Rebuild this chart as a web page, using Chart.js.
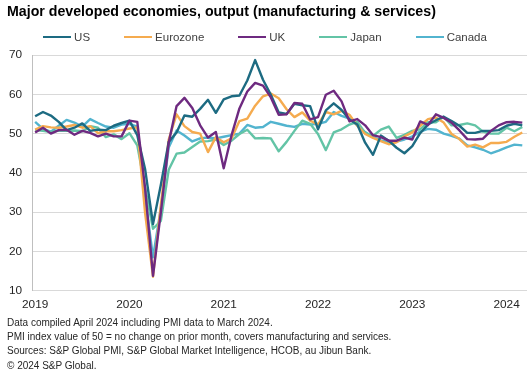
<!DOCTYPE html>
<html>
<head>
<meta charset="utf-8">
<script src="https://cdn.jsdelivr.net/npm/chart.js@4.4.1/dist/chart.umd.min.js"></script>
<style>
  body { margin: 0; background: #fff; font-family: Arial, "Liberation Sans", sans-serif; color: #262626; }
  #wrap { position: relative; width: 530px; height: 377px; overflow: hidden; }
  #chart { position: absolute; left: 0; top: 0; }
  #title { position: absolute; left: 7px; top: 3px; font-size: 14.2px; font-weight: bold; color: #000; white-space: nowrap; }
  #legend { position: absolute; left: 0; width: 530px; top: 31px; display: flex; justify-content: center; gap: 34px; font-size: 11.5px; color: #404040; }
  #legend .item { display: flex; align-items: center; }
  #legend .swatch { width: 28px; height: 2.5px; margin-right: 3px; }
  #notes { position: absolute; left: 7px; top: 316px; font-size: 10px; line-height: 14.2px; color: #262626; white-space: nowrap; }
</style>
</head>
<body>
<div id="wrap">
  <canvas id="chart" width="530" height="377"></canvas>
  <div id="title">Major developed economies, output (manufacturing &amp; services)</div>
  <div id="legend"></div>
  <div id="notes">
    Data compiled April 2024 including PMI data to March 2024.<br>
    PMI index value of 50 = no change on prior month, covers manufacturing and services.<br>
    Sources: S&amp;P Global PMI, S&amp;P Global Market Intelligence, HCOB, au Jibun Bank.<br>
    &copy; 2024 S&amp;P Global.
  </div>
</div>
<script>
"use strict";

// Monthly, Jan 2019 - Mar 2024
let months = [];
for (let y = 2019; y <= 2024; y++) {
  for (let m = 1; m <= 12; m++) {
    if (y === 2024 && m > 3) break;
    months.push(y + "-" + (m < 10 ? "0" + m : m));
  }
}

let yearTicks = [2019, 2020, 2021, 2022, 2023, 2024];
let yTicks = [10, 20, 30, 40, 50, 60, 70];

let seriesNames = ["US", "Eurozone", "UK", "Japan", "Canada"];
let seriesColors = ["#1d6b82", "#f5ab4f", "#6e2a80", "#63c4a6", "#52b4cf"];
// lower order = drawn on top (UK sits on top at the 2020 low)
let seriesOrder = [1, 2, 0, 3, 4];

let us = [
  54.4, 55.5, 54.6, 53.0, 50.9, 51.5, 52.6, 50.7, 51.0, 50.9, 52.0, 52.7,
  53.3, 49.6, 40.9, 27.0, 37.0, 47.9, 50.3, 54.6, 54.3, 56.3, 58.6, 55.3,
  58.7, 59.5, 59.7, 63.5, 68.7, 63.7, 59.9, 55.4, 55.0, 57.6, 57.2, 57.0,
  51.1, 55.9, 57.7, 56.0, 53.6, 52.3, 47.7, 44.6, 49.5, 48.2, 46.4, 45.0,
  46.8, 50.1, 52.3, 53.4, 54.3, 53.2, 52.0, 50.2, 50.2, 50.7, 50.7, 50.9,
  52.0, 52.5, 52.1
];
let eurozone = [
  51.0, 51.9, 51.6, 51.5, 51.8, 52.2, 51.5, 51.9, 50.1, 50.6, 50.6, 50.9,
  51.3, 51.6, 29.7, 13.6, 31.9, 48.5, 54.9, 51.9, 50.4, 50.0, 45.3, 49.1,
  47.8, 48.8, 53.2, 53.8, 57.1, 59.5, 60.2, 59.0, 56.2, 54.2, 55.4, 53.3,
  52.3, 55.5, 54.9, 55.8, 54.8, 52.0, 49.9, 48.9, 48.1, 47.3, 47.8, 49.3,
  50.3, 52.0, 53.7, 54.1, 52.8, 49.9, 48.6, 46.7, 47.2, 46.5, 47.6, 47.6,
  47.9, 49.2, 50.3
];
let uk = [
  50.3, 51.5, 50.0, 50.9, 51.0, 49.7, 50.7, 50.2, 49.3, 50.0, 49.3, 49.3,
  53.3, 53.0, 36.0, 13.8, 30.0, 47.7, 57.0, 59.1, 56.5, 52.1, 49.0, 50.4,
  41.2, 49.6, 56.4, 60.7, 62.9, 62.2, 59.2, 54.8, 54.9, 57.8, 57.6, 53.6,
  54.2, 59.9, 60.9, 58.2, 53.1, 53.7, 52.1, 49.6, 49.1, 48.2, 48.2, 49.0,
  48.5, 53.1, 52.2, 54.9, 54.0, 52.8, 50.8, 48.6, 48.5, 48.7, 50.7, 52.1,
  52.9, 53.0, 52.8
];
let japan = [
  50.9, 50.7, 50.4, 50.8, 50.7, 50.8, 50.6, 51.9, 51.5, 49.1, 49.8, 48.6,
  50.1, 47.0, 36.2, 25.8, 27.8, 40.8, 44.9, 45.2, 46.6, 48.0, 48.1, 48.5,
  47.1, 48.2, 49.9, 51.0, 48.8, 48.9, 48.8, 45.5, 47.9, 50.7, 53.3, 52.5,
  49.9, 45.8, 50.3, 51.1, 52.3, 53.0, 50.2, 49.4, 51.0, 51.8, 48.9, 49.7,
  50.7, 51.1, 52.9, 52.9, 54.3, 52.1, 52.2, 52.6, 52.1, 50.5, 50.0, 50.0,
  51.5, 50.6, 51.7
];
let canada = [
  53.0, 51.2, 50.5, 52.0, 53.5, 52.8, 51.8, 53.7, 52.7, 51.8, 51.5, 52.3,
  52.5, 51.8, 34.0, 18.5, 31.0, 46.5, 50.8, 49.5, 48.0, 48.8, 49.0, 48.8,
  49.2, 49.6, 50.0, 52.2, 51.5, 51.7, 53.0, 52.5, 52.0, 51.7, 52.5, 52.3,
  52.5, 53.0, 55.5, 54.5, 53.8, 52.1, 50.4, 49.1, 48.3, 47.8, 48.0, 48.5,
  49.3, 50.5, 51.2, 51.0, 50.0, 49.4, 48.7, 47.0, 46.5, 45.9, 45.0, 45.7,
  46.5, 47.2, 47.0
];

let seriesValues = [us, eurozone, uk, japan, canada];

// Legend as HTML, built from the series lists
let legendDiv = document.getElementById("legend");
for (let i = 0; i < seriesNames.length; i++) {
  let item = document.createElement("div");
  item.className = "item";
  item.innerHTML = '<span class="swatch" style="background:' + seriesColors[i] + '"></span>' + seriesNames[i];
  legendDiv.appendChild(item);
}

let datasets = [];
for (let i = 0; i < seriesNames.length; i++) {
  datasets.push({
    label: seriesNames[i],
    data: seriesValues[i].map(function (v, j) { return { x: j, y: v }; }),
    borderColor: seriesColors[i],
    backgroundColor: seriesColors[i],
    borderWidth: 2.4,
    pointRadius: 0,
    tension: 0,
    borderJoinStyle: "round",
    fill: false,
    order: seriesOrder[i]
  });
}

let ctx0 = document.getElementById("chart");
let myChart = new Chart(ctx0, {
  type: "line",
  data: { datasets: datasets },
  options: {
    responsive: false,
    animation: false,
    events: [],
    layout: { padding: { left: 8, right: 3, top: 55, bottom: 58 } },
    plugins: {
      legend: { display: false },
      title: { display: false },
      tooltip: { enabled: false }
    },
    scales: {
      x: {
        type: "linear",
        min: -0.4,
        max: months.length - 0.4,
        afterBuildTicks: function (axis) {
          axis.ticks = yearTicks.map(function (y) { return { value: (y - 2019) * 12 }; });
        },
        afterFit: function (axis) {
          // year labels may hang past the plot edges
          axis.paddingLeft = 0;
          axis.paddingRight = 0;
        },
        ticks: {
          autoSkip: false,
          maxRotation: 0,
          padding: 7,
          color: "#262626",
          font: { family: "Arial, 'Liberation Sans'", size: 11.8 },
          callback: function (v) { return String(2019 + Math.round(v / 12)); }
        },
        grid: { display: false, drawTicks: false },
        border: { display: false }
      },
      y: {
        min: yTicks[0],
        max: yTicks[yTicks.length - 1],
        afterBuildTicks: function (axis) {
          axis.ticks = yTicks.map(function (v) { return { value: v }; });
        },
        afterFit: function (axis) {
          axis.width = 24;
        },
        ticks: {
          padding: 10,
          color: "#262626",
          font: { family: "Arial, 'Liberation Sans'", size: 11.8 }
        },
        grid: { color: "#d9d9d9", lineWidth: 1, drawTicks: false },
        border: { display: true, color: "#bfbfbf", width: 1 }
      }
    }
  }
});
</script>
</body>
</html>
